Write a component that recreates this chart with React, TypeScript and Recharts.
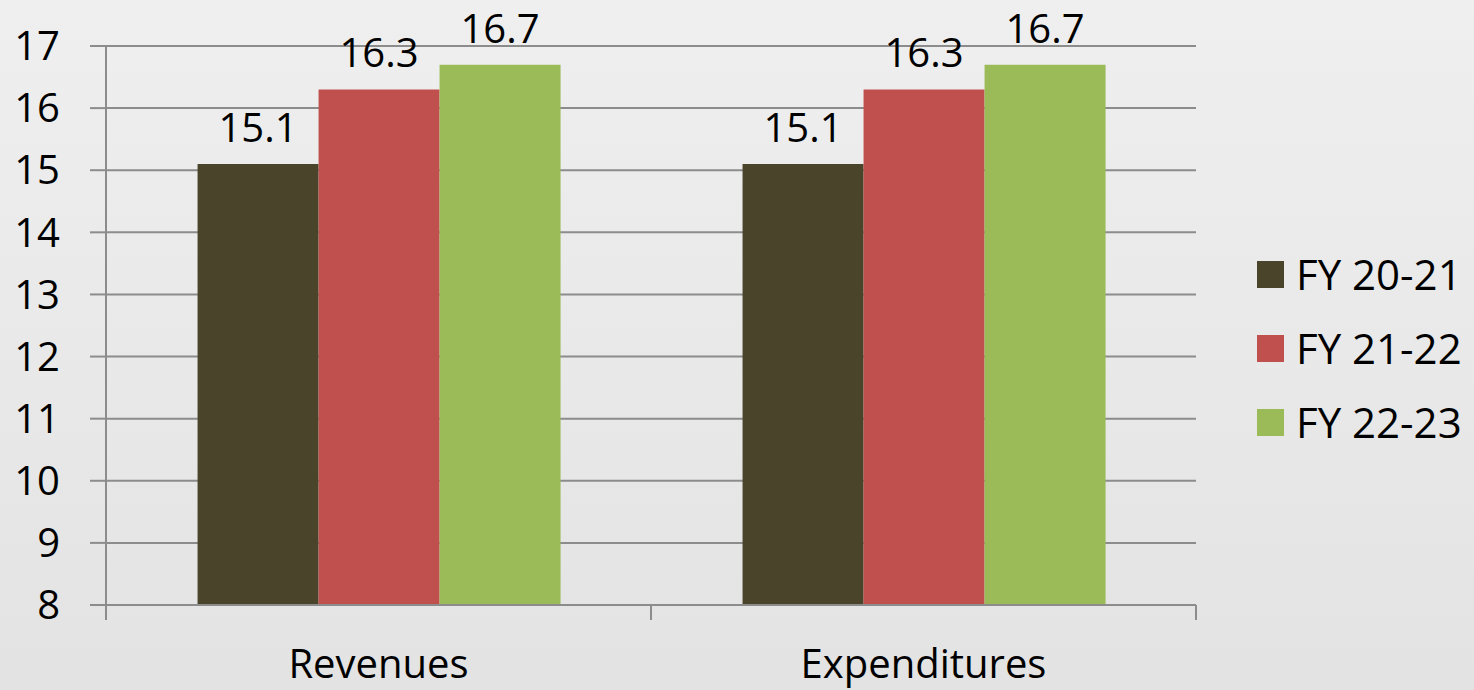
import React from "react";
import {
  Bar,
  BarChart,
  CartesianGrid,
  LabelList,
  Legend,
  XAxis,
  YAxis,
} from "recharts";

const categories = ["Revenues", "Expenditures"];
const fy2021 = [15.1, 15.1];
const fy2122 = [16.3, 16.3];
const fy2223 = [16.7, 16.7];
const seriesNames = ["FY 20-21", "FY 21-22", "FY 22-23"];
const yTicks = [8, 9, 10, 11, 12, 13, 14, 15, 16, 17];

const data = categories.map((category, i) => ({
  category,
  a: fy2021[i],
  b: fy2122[i],
  c: fy2223[i],
}));

const FONT = "'Open Sans', 'Noto Sans', sans-serif";
const GRID = "#8c8c8c";
const X_TICK_MARGIN = 73;
const LABEL_OFFSET = 22;

function CategoryTick(props: any) {
  const { x, y, payload, width, visibleTicksCount } = props;
  const half =
    payload && typeof payload.offset === "number" && payload.offset > 0
      ? payload.offset
      : width / visibleTicksCount / 2;
  const axisY = y - X_TICK_MARGIN;
  return (
    <g>
      <line x1={x - half} x2={x - half} y1={axisY} y2={axisY + 15} stroke={GRID} strokeWidth={2} />
      <line x1={x + half} x2={x + half} y1={axisY} y2={axisY + 15} stroke={GRID} strokeWidth={2} />
      <text x={x} y={y} textAnchor="middle" fill="#000" fontSize={40} fontFamily={FONT}>
        {payload.value}
      </text>
    </g>
  );
}

function LegendBox(props: any) {
  const items = props.payload || [];
  return (
    <div style={{ width: 278, boxSizing: "border-box", paddingLeft: 61, paddingTop: 6, fontFamily: FONT }}>
      {items.map((item: any) => (
        <div key={item.value} style={{ height: 74, display: "flex", alignItems: "center" }}>
          <span style={{ width: 27, height: 27, background: item.color, display: "inline-block", marginRight: 12 }} />
          <span style={{ fontSize: 42, color: "#000", lineHeight: 1 }}>{item.value}</span>
        </div>
      ))}
    </div>
  );
}

export default function App() {
  return (
    <div
      style={{
        position: "absolute",
        left: 0,
        top: 0,
        width: 1474,
        height: 690,
        background: "linear-gradient(180deg, #efefef 0%, #e9e9e9 50%, #e3e3e3 100%)",
      }}
    >
      <BarChart
        width={1474}
        height={690}
        data={data}
        margin={{ top: 46, right: 0, left: 0, bottom: 0 }}
        barCategoryGap="16.8%"
        barGap={0}
      >
        <CartesianGrid horizontal vertical={false} stroke={GRID} strokeWidth={2} />
        <XAxis
          dataKey="category"
          height={85}
          axisLine={{ stroke: GRID, strokeWidth: 2 }}
          tickLine={false}
          tickSize={0}
          tickMargin={X_TICK_MARGIN}
          tick={<CategoryTick />}
          interval={0}
        />
        <YAxis
          width={106}
          domain={[8, 17]}
          ticks={yTicks}
          interval={0}
          axisLine={{ stroke: GRID, strokeWidth: 2 }}
          tickLine={{ stroke: GRID, strokeWidth: 2 }}
          tickSize={16}
          tickMargin={30}
          tick={{ fill: "#000", fontSize: 40, fontFamily: FONT }}
        />
        <Legend
          layout="vertical"
          align="right"
          verticalAlign="middle"
          content={<LegendBox />}
        />
        <Bar dataKey="a" name={seriesNames[0]} fill="#4a452a" isAnimationActive={false}>
          <LabelList dataKey="a" position="top" offset={LABEL_OFFSET} fill="#000" fontSize={40} fontFamily={FONT} />
        </Bar>
        <Bar dataKey="b" name={seriesNames[1]} fill="#c0504d" isAnimationActive={false}>
          <LabelList dataKey="b" position="top" offset={LABEL_OFFSET} fill="#000" fontSize={40} fontFamily={FONT} />
        </Bar>
        <Bar dataKey="c" name={seriesNames[2]} fill="#9bbb59" isAnimationActive={false}>
          <LabelList dataKey="c" position="top" offset={LABEL_OFFSET} fill="#000" fontSize={40} fontFamily={FONT} />
        </Bar>
      </BarChart>
    </div>
  );
}
